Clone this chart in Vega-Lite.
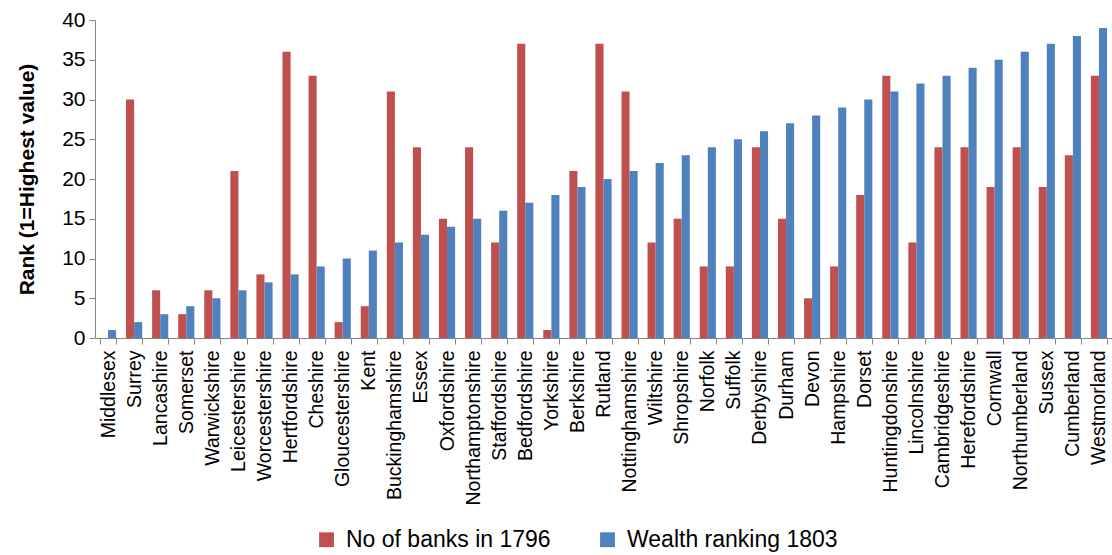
{
  "$schema": "https://vega.github.io/schema/vega-lite/v6.json",
  "autosize": {"type": "none"},
  "width": 1017,
  "height": 318,
  "padding": {"left": 95, "top": 20, "right": 0, "bottom": 217},
  "background": "white",
  "config": {"view": {"stroke": null}, "font": "Liberation Sans"},
  "datasets": {
    "wide": [
      {"county": "Middlesex", "banks": 0, "wealth": 1},
      {"county": "Surrey", "banks": 30, "wealth": 2},
      {"county": "Lancashire", "banks": 6, "wealth": 3},
      {"county": "Somerset", "banks": 3, "wealth": 4},
      {"county": "Warwickshire", "banks": 6, "wealth": 5},
      {"county": "Leicestershire", "banks": 21, "wealth": 6},
      {"county": "Worcestershire", "banks": 8, "wealth": 7},
      {"county": "Hertfordshire", "banks": 36, "wealth": 8},
      {"county": "Cheshire", "banks": 33, "wealth": 9},
      {"county": "Gloucestershire", "banks": 2, "wealth": 10},
      {"county": "Kent", "banks": 4, "wealth": 11},
      {"county": "Buckinghamshire", "banks": 31, "wealth": 12},
      {"county": "Essex", "banks": 24, "wealth": 13},
      {"county": "Oxfordshire", "banks": 15, "wealth": 14},
      {"county": "Northamptonshire", "banks": 24, "wealth": 15},
      {"county": "Staffordshire", "banks": 12, "wealth": 16},
      {"county": "Bedfordshire", "banks": 37, "wealth": 17},
      {"county": "Yorkshire", "banks": 1, "wealth": 18},
      {"county": "Berkshire", "banks": 21, "wealth": 19},
      {"county": "Rutland", "banks": 37, "wealth": 20},
      {"county": "Nottinghamshire", "banks": 31, "wealth": 21},
      {"county": "Wiltshire", "banks": 12, "wealth": 22},
      {"county": "Shropshire", "banks": 15, "wealth": 23},
      {"county": "Norfolk", "banks": 9, "wealth": 24},
      {"county": "Suffolk", "banks": 9, "wealth": 25},
      {"county": "Derbyshire", "banks": 24, "wealth": 26},
      {"county": "Durham", "banks": 15, "wealth": 27},
      {"county": "Devon", "banks": 5, "wealth": 28},
      {"county": "Hampshire", "banks": 9, "wealth": 29},
      {"county": "Dorset", "banks": 18, "wealth": 30},
      {"county": "Huntingdonshire", "banks": 33, "wealth": 31},
      {"county": "Lincolnshire", "banks": 12, "wealth": 32},
      {"county": "Cambridgeshire", "banks": 24, "wealth": 33},
      {"county": "Herefordshire", "banks": 24, "wealth": 34},
      {"county": "Cornwall", "banks": 19, "wealth": 35},
      {"county": "Northumberland", "banks": 24, "wealth": 36},
      {"county": "Sussex", "banks": 19, "wealth": 37},
      {"county": "Cumberland", "banks": 23, "wealth": 38},
      {"county": "Westmorland", "banks": 33, "wealth": 39}
    ]
  },
  "data": {"name": "wide"},
  "transform": [
    {"fold": ["banks", "wealth"], "as": ["key", "rank"]},
    {"calculate": "datum.key === 'banks' ? 'No of banks in 1796' : 'Wealth ranking 1803'", "as": "series"}
  ],
  "mark": {"type": "bar"},
  "encoding": {
    "x": {
      "field": "county", "type": "nominal", "sort": null,
      "scale": {"paddingInner": 0.38, "paddingOuter": 0.19},
      "axis": {
        "title": null, "labelAngle": -90, "labelFontSize": 19.5, "labelColor": "#000",
        "labelPadding": 6, "domainColor": "#868686", "tickColor": "#868686",
        "tickBand": "extent", "tickSize": 6, "labelFont": "Liberation Sans", "labelLimit": 300
      }
    },
    "xOffset": {"field": "series", "type": "nominal", "sort": null},
    "y": {
      "field": "rank", "type": "quantitative",
      "scale": {"domain": [0, 40], "nice": false},
      "axis": {
        "title": "Rank (1=Highest value)", "titleFontSize": 21, "titleFontWeight": "bold",
        "titleColor": "#000", "titlePadding": 24, "labelFontSize": 21, "labelColor": "#000",
        "values": [0, 5, 10, 15, 20, 25, 30, 35, 40], "grid": false,
        "domainColor": "#868686", "tickColor": "#868686", "tickSize": 6, "labelPadding": 4
      }
    },
    "color": {
      "field": "series", "type": "nominal", "sort": null,
      "scale": {"range": ["#C0504D", "#4F81BD"]},
      "legend": {
        "title": null, "orient": "none", "direction": "horizontal",
        "legendX": 220, "legendY": 508, "labelFontSize": 23, "labelColor": "#000",
        "symbolType": "square", "symbolSize": 220, "symbolStrokeWidth": 0,
        "columnPadding": 45, "labelOffset": 8, "labelLimit": 400
      }
    }
  }
}
